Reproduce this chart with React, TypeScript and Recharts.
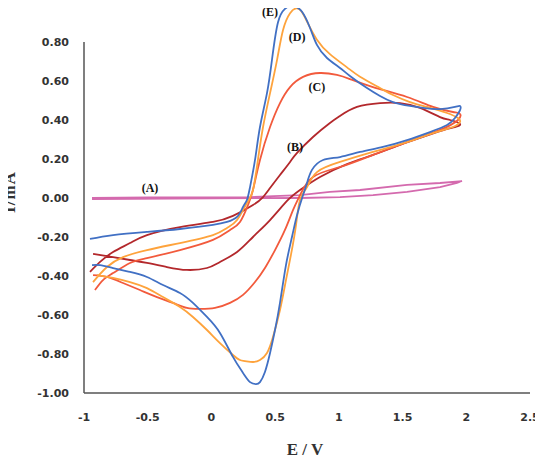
import React from 'react';
import { LineChart, Line, XAxis, YAxis, ReferenceLine, ReferenceDot } from 'recharts';

// Tick values
const xTicks = [-1, -0.5, 0, 0.5, 1, 1.5, 2, 2.5];
const yTicks = [-1, -0.8, -0.6, -0.4, -0.2, 0, 0.2, 0.4, 0.6, 0.8];

// Curve (E) — potential (V) and current (mA), forward then reverse scan
const potE = [
  -0.953, -0.772, -0.506, -0.247, 0.012, 0.122, 0.201, 0.248, 0.279, 0.303, 0.342, 0.381, 0.436, 0.475, 0.522, 0.577,
  0.617, 0.656, 0.711, 0.774, 0.828, 0.907, 1.009, 1.087, 1.221, 1.323, 1.425, 1.558, 1.66, 1.794, 1.911, 1.951,
  1.951, 1.911, 1.849, 1.715, 1.535, 1.346, 1.166, 1.009, 0.876, 0.789, 0.75, 0.719, 0.672, 0.632, 0.585, 0.538,
  0.499, 0.46, 0.42, 0.381, 0.35, 0.303, 0.248, 0.169, 0.067, -0.035, -0.145, -0.247, -0.38, -0.506, -0.639, -0.772,
  -0.874, -0.937,
];
const curE = [
  -0.21, -0.19, -0.174, -0.159, -0.138, -0.123, -0.097, -0.046, -0.01, 0.056, 0.195, 0.364, 0.538, 0.708, 0.9, 0.97,
  0.985, 0.982, 0.955, 0.872, 0.785, 0.718, 0.667, 0.626, 0.564, 0.523, 0.492, 0.472, 0.462, 0.456, 0.467, 0.472,
  0.451, 0.41, 0.374, 0.338, 0.297, 0.262, 0.236, 0.21, 0.195, 0.144, 0.077, 0.015, -0.087, -0.2, -0.344, -0.538,
  -0.677, -0.795, -0.892, -0.944, -0.954, -0.944, -0.897, -0.815, -0.692, -0.61, -0.538, -0.487, -0.446, -0.405, -0.379, -0.359,
  -0.344, -0.344,
];

// Curve (D)
const potD = [
  -0.929, -0.82, -0.694, -0.506, -0.247, 0.012, 0.122, 0.201, 0.279, 0.326, 0.365, 0.405, 0.46, 0.515, 0.562, 0.617,
  0.664, 0.703, 0.75, 0.828, 0.93, 1.064, 1.166, 1.323, 1.425, 1.558, 1.692, 1.849, 1.935, 1.951,
  1.896, 1.739, 1.535, 1.268, 1.009, 0.828, 0.75, 0.695, 0.664, 0.624, 0.585, 0.538, 0.483, 0.436, 0.381, 0.326,
  0.263, 0.224, 0.169, 0.067, -0.035, -0.145, -0.247, -0.38, -0.506, -0.639, -0.772, -0.898,
];
const curD = [
  -0.431, -0.354, -0.303, -0.267, -0.231, -0.19, -0.154, -0.113, -0.026, 0.041, 0.195, 0.364, 0.538, 0.708, 0.862, 0.948,
  0.972, 0.96, 0.905, 0.812, 0.738, 0.67, 0.622, 0.564, 0.528, 0.492, 0.467, 0.436, 0.41, 0.39,
  0.364, 0.333, 0.287, 0.236, 0.185, 0.133, 0.056, -0.01, -0.138, -0.292, -0.421, -0.574, -0.713, -0.795, -0.831, -0.841,
  -0.836, -0.831, -0.805, -0.744, -0.677, -0.61, -0.559, -0.508, -0.462, -0.431, -0.41, -0.395,
];

// Curve (C)
const potC = [
  -0.914, -0.851, -0.772, -0.639, -0.506, -0.247, 0.012, 0.146, 0.224, 0.287, 0.326, 0.381, 0.46, 0.538, 0.617, 0.719,
  0.852, 0.985, 1.087, 1.268, 1.535, 1.739, 1.896, 1.951,
  1.935, 1.794, 1.535, 1.268, 1.009, 0.797, 0.695, 0.64, 0.577, 0.499, 0.42, 0.342, 0.248, 0.146, 0.028, -0.09,
  -0.192, -0.302, -0.427, -0.561, -0.694, -0.82, -0.929,
];
const curC = [
  -0.472, -0.421, -0.385, -0.333, -0.308, -0.267, -0.215, -0.164, -0.123, -0.036, 0.041, 0.195, 0.364, 0.487, 0.569, 0.621,
  0.641, 0.631, 0.61, 0.569, 0.518, 0.467, 0.441, 0.431,
  0.4, 0.349, 0.287, 0.221, 0.159, 0.108, 0.015, -0.062, -0.164, -0.267, -0.359, -0.431, -0.497, -0.538, -0.564, -0.569,
  -0.564, -0.538, -0.508, -0.472, -0.436, -0.405, -0.395,
];

// Curve (B)
const potB = [
  -0.953, -0.874, -0.772, -0.639, -0.506, -0.247, 0.012, 0.169, 0.326, 0.405, 0.46, 0.538, 0.617, 0.672, 0.797, 0.93,
  1.009, 1.142, 1.323, 1.48, 1.637, 1.794, 1.872, 1.951,
  1.911, 1.849, 1.66, 1.48, 1.268, 1.064, 0.852, 0.695, 0.593, 0.46, 0.326, 0.201, 0.067, -0.035, -0.192, -0.349,
  -0.506, -0.639, -0.772, -0.929,
];
const curB = [
  -0.379, -0.328, -0.277, -0.231, -0.19, -0.149, -0.123, -0.092, -0.036, 0.005, 0.051, 0.118, 0.185, 0.231, 0.313, 0.385,
  0.421, 0.467, 0.487, 0.487, 0.462, 0.415, 0.4, 0.379,
  0.364, 0.354, 0.313, 0.272, 0.221, 0.174, 0.108, 0.041, -0.015, -0.113, -0.2, -0.277, -0.328, -0.359, -0.369, -0.354,
  -0.333, -0.318, -0.303, -0.287,
];

// Curve (A)
const potA = [-0.937, -0.482, 0.303, 0.695, 0.93, 1.166, 1.535, 1.794, 1.966, 1.927, 1.794, 1.535, 1.268, 1.009, 0.695, -0.937];
const curA = [0, 0.003, 0.005, 0.015, 0.031, 0.041, 0.067, 0.077, 0.087, 0.077, 0.056, 0.031, 0.015, 0.005, 0, -0.005];

// Curve labels
const labelNames = ['(E)', '(D)', '(C)', '(B)', '(A)'];
const labelPot = [0.46, 0.672, 0.828, 0.656, -0.482];
const labelCur = [0.954, 0.826, 0.569, 0.262, 0.051];

const toPoints = (e: number[], i: number[]) => e.map((x, k) => ({ x, y: i[k] }));

const series = [
  { name: 'A', data: toPoints(potA, curA), color: '#d46aae', curve: 'linear' },
  { name: 'B', data: toPoints(potB, curB), color: '#b3282c', curve: 'natural' },
  { name: 'C', data: toPoints(potC, curC), color: '#f25a3c', curve: 'natural' },
  { name: 'D', data: toPoints(potD, curD), color: '#fea33c', curve: 'natural' },
  { name: 'E', data: toPoints(potE, curE), color: '#4170c4', curve: 'natural' },
];

const tickStyle = { fill: '#333', fontSize: 11, fontWeight: 'bold', fontFamily: 'DejaVu Sans' };
const titleFont = { fontFamily: 'Liberation Serif', fontWeight: 'bold', fontSize: 17, fill: '#333' };

const YTitle = () => (
  <text
    x={9}
    y={192}
    transform="rotate(-90 9 192)"
    textAnchor="middle"
    dominantBaseline="central"
    style={{ ...titleFont, letterSpacing: 1 }}
    fill="#333"
  >
    I/mA
  </text>
);

export default function App() {
  return (
    <div style={{ marginTop: -8, marginLeft: -8, width: 543, height: 460 }}>
      <LineChart width={543} height={460} margin={{ top: 3, right: 13, left: 0, bottom: 0 }}>
        <XAxis
          type="number"
          dataKey="x"
          domain={[-1, 2.5]}
          ticks={xTicks}
          tickFormatter={(v: number) => String(v)}
          tickLine={false}
          tickSize={6}
          tickMargin={14}
          height={67}
          axisLine={{ stroke: '#555', strokeWidth: 1.5 }}
          tick={tickStyle}
          label={{ value: 'E/V', position: 'insideBottom', offset: 5, style: { ...titleFont, letterSpacing: 4 } }}
          allowDuplicatedCategory={false}
        />
        <YAxis
          type="number"
          domain={[-1, 1]}
          ticks={yTicks}
          tickFormatter={(v: number) => v.toFixed(2)}
          tickLine={false}
          tickSize={6}
          tickMargin={9}
          width={84}
          axisLine={false}
          tick={tickStyle}
          label={{ content: YTitle }}
        />
        <ReferenceLine
          segment={[{ x: -1, y: -1 }, { x: -1, y: 0.8 }]}
          stroke="#555"
          strokeWidth={1.5}
        />
        {series.map((s) => (
          <Line
            key={s.name}
            data={s.data}
            dataKey="y"
            type={s.curve as any}
            stroke={s.color}
            strokeWidth={1.8}
            dot={false}
            activeDot={false}
            isAnimationActive={false}
          />
        ))}
        {labelNames.map((n, k) => (
          <ReferenceDot
            key={n}
            x={labelPot[k]}
            y={labelCur[k]}
            r={0}
            fill="none"
            stroke="none"
            ifOverflow="visible"
            label={{
              value: n,
              position: 'center',
              fill: '#111',
              fontSize: 12,
              fontWeight: 'bold',
              fontFamily: 'Liberation Serif',
            }}
          />
        ))}
      </LineChart>
    </div>
  );
}
